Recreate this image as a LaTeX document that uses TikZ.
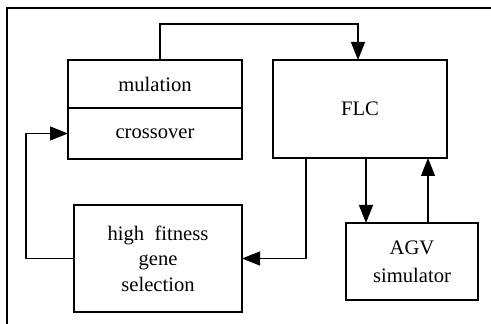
\documentclass[tikz,border=0pt]{standalone}
\usepackage{fontspec}
\setmainfont{Liberation Serif}
\usepackage{tikz}
\usetikzlibrary{positioning,arrows.meta,calc}
\tikzset{
  blk/.style={draw,line width=0.8pt,align=center,inner sep=0pt,outer sep=0pt,font=\fontsize{10.3}{12.8}\selectfont},
  ar/.style={-{Triangle[length=9pt,width=7pt]},line width=0.7pt},
  frm/.style={line width=0.7pt},
}
\begin{document}
\begin{tikzpicture}[x=0.5pt,y=-0.5pt]
  \useasboundingbox (0,0) rectangle (491,324);
  \draw[frm] (491,8) -- (7,8) -- (7,324);
  \node[blk,minimum width=87pt,minimum height=24pt] (mut) at (155,84) {mulation};
  \node[blk,minimum width=87pt,minimum height=25.5pt] (cross) at (155,133.5) {crossover};
  \node[blk,minimum width=87pt,minimum height=49pt] (flc) at (360,109) {FLC};
  \node[blk,minimum width=84pt,minimum height=53.5pt] (sel) at (158,258.5) {high\ \ fitness\\gene\\selection};
  \node[blk,minimum width=66pt,minimum height=38.5pt,font=\fontsize{10.3}{14}\selectfont] (agv) at (412,261.5) {AGV\\simulator};
  \coordinate (d1) at ([xshift=3pt]flc.south);
  \coordinate (u1) at ([xshift=8pt]agv.north);
  % loop
  \draw[ar] ([xshift=2.5pt]mut.north) -- ++(0,-36) -| ([xshift=-1pt]flc.north);
  \draw[ar] ([xshift=-27pt]flc.south) |- (sel.east);
  \draw[ar] (sel.west) -- ++(-48,0) |- (cross.west);
  \draw[ar] (d1) -- (d1 |- agv.north);
  \draw[ar] (u1) -- (u1 |- flc.south);
\end{tikzpicture}
\end{document}
